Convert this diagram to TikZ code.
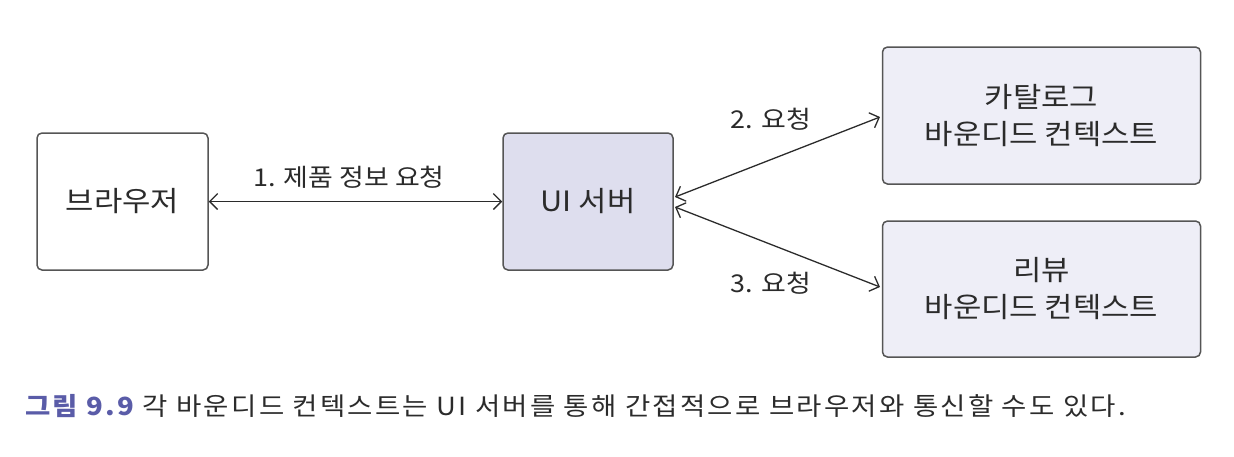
\documentclass[tikz,border=0pt]{standalone}
\usepackage{fontspec}
\setmainfont{Noto Sans CJK KR}[FakeStretch=1.1]
\newfontfamily\capfont{Noto Sans CJK KR}[FakeStretch=1.1,LetterSpace=9]
\usetikzlibrary{arrows.meta}
\definecolor{bordergray}{HTML}{555555}
\definecolor{uifill}{HTML}{DEDEEE}
\definecolor{ctxfill}{HTML}{EEEEF7}
\definecolor{txtgray}{HTML}{2B2B2B}
\definecolor{capblue}{HTML}{5A5CA8}
\tikzset{
  box/.style={draw=bordergray, line width=1.5pt, rounded corners=5pt, text=txtgray, align=center, inner sep=0pt, font=\fontsize{28}{37}\selectfont},
  conn/.style={draw=txtgray, line width=1.3pt, {Straight Barb[length=8pt,width=16pt]}-{Straight Barb[length=8pt,width=16pt]}},
  lbl/.style={text=txtgray, font=\fontsize{24.5}{28}\selectfont, inner sep=0pt}
}
\begin{document}
\begin{tikzpicture}[x=1pt,y=-1pt]
\useasboundingbox (0,0) rectangle (1234,456);
\node[box, fill=white, minimum width=171pt, minimum height=137pt] (browser) at (122.5,201.5) {브라우저};
\node[box, fill=uifill, minimum width=170pt, minimum height=137pt] (ui) at (588,201.5) {UI 서버};
\node[box, fill=ctxfill, minimum width=318pt, minimum height=137pt] (catalog) at (1041.5,115.5) {카탈로그\\바운디드 컨텍스트};
\node[box, fill=ctxfill, minimum width=318pt, minimum height=136pt] (review) at (1041.5,289) {리뷰\\바운디드 컨텍스트};
\coordinate (ui2) at (675,197);
\coordinate (ui3) at (675,207);
\coordinate (cat) at (880,117);
\coordinate (rev) at (880,287);
\draw[conn] (browser.east) -- (ui.west);
\draw[conn] (ui2) -- (cat);
\draw[conn] (ui3) -- (rev);
\node[lbl] (l1) at (349,177) {1. 제품 정보 요청};
\node[lbl] (l2) at (771,119) {2. 요청};
\node[lbl] (l3) at (771,283) {3. 요청};
\node[anchor=base west, inner sep=0pt, text=txtgray, font=\capfont\fontsize{25}{29}\selectfont] (cap) at (25,415) {\textcolor{capblue}{\bfseries 그림 9.9} 각 바운디드 컨텍스트는 UI 서버를 통해 간접적으로 브라우저와 통신할 수도 있다.};
\end{tikzpicture}
\end{document}
